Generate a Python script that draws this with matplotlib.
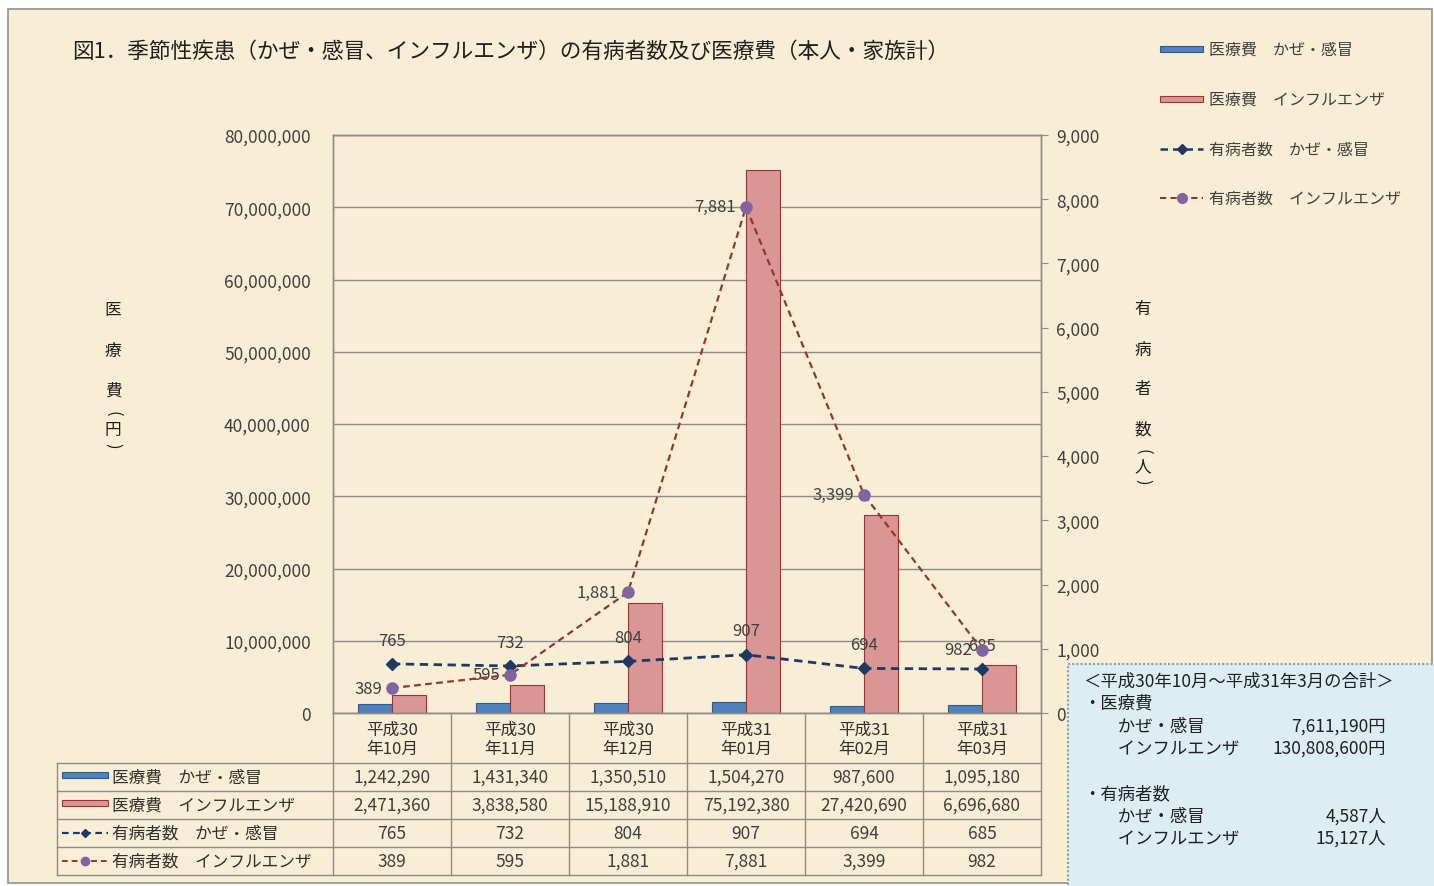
import matplotlib
matplotlib.use("Agg")
import matplotlib.pyplot as plt
from matplotlib.patches import Rectangle
from matplotlib.lines import Line2D
import numpy as np

plt.rcParams['font.family'] = ['Noto Sans CJK JP', 'DejaVu Sans']

# ---------------- data ----------------
categories = ["平成30\n年10月", "平成30\n年11月", "平成30\n年12月",
              "平成31\n年01月", "平成31\n年02月", "平成31\n年03月"]
cost_cold = [1242290, 1431340, 1350510, 1504270, 987600, 1095180]
cost_flu = [2471360, 3838580, 15188910, 75192380, 27420690, 6696680]
pat_cold = [765, 732, 804, 907, 694, 685]
pat_flu = [389, 595, 1881, 7881, 3399, 982]
series_names = ["医療費　かぜ・感冒", "医療費　インフルエンザ",
                "有病者数　かぜ・感冒", "有病者数　インフルエンザ"]
title = "図1．季節性疾患（かぜ・感冒、インフルエンザ）の有病者数及び医療費（本人・家族計）"
left_label = ["医", "療", "費", "(", "円", ")"]
right_label = ["有", "病", "者", "数", "(", "人", ")"]
summary_lines = ["＜平成30年10月～平成31年3月の合計＞",
                 "・医療費",
                 "　　かぜ・感冒", "　　インフルエンザ",
                 "",
                 "・有病者数",
                 "　　かぜ・感冒", "　　インフルエンザ"]
summary_values = ["", "", "7,611,190円", "130,808,600円", "", "", "4,587人", "15,127人"]

# ---------------- colours ----------------
BG = "#F8EDD5"
BLUE = "#4F81BD"; BLUE_E = "#2F5B8F"
RED = "#D99694"; RED_E = "#953735"
NAVY = "#1F3864"
PURPLE = "#8064A2"; FLU_LINE = "#943634"
GRID = "#8C8C8C"
TXT = "#404040"

W, H = 1434, 887
fig = plt.figure(figsize=(W / 100, H / 100), dpi=100, facecolor="white")

def fx(x): return x / W
def fy(y): return 1 - y / H

# overlay axes in pixel coordinates (background, borders, table)
ov = fig.add_axes([0, 0, 1, 1], zorder=0)
ov.set_xlim(0, W); ov.set_ylim(H, 0); ov.axis("off")
ov.add_patch(Rectangle((8, 10), 1424, 874, facecolor=BG, edgecolor="#909090", lw=1.2))

# main axes
L, R, T, B = 333, 1041, 136, 714
ax = fig.add_axes([fx(L), fy(B), (R - L) / W, (B - T) / H], zorder=2)
ax.patch.set_visible(False)
x = np.arange(len(categories))
bw = 0.29
ax.bar(x - bw / 2, cost_cold, bw, color=BLUE, edgecolor=BLUE_E, lw=0.8, zorder=2)
ax.bar(x + bw / 2, cost_flu, bw, color=RED, edgecolor=RED_E, lw=0.8, zorder=2)
ax.set_xlim(-0.5, len(categories) - 0.5)
ax.set_ylim(0, 80000000)
ax.set_yticks(np.arange(0, 80000001, 10000000))
ax.set_yticklabels([f"{v:,}" for v in range(0, 80000001, 10000000)], fontsize=12.5, color=TXT)
ax.tick_params(axis="y", length=0, pad=16)
ax.set_xticks([])
ax.yaxis.grid(True, color=GRID, lw=1.0)
ax.set_axisbelow(True)
for s in ax.spines.values():
    s.set_color(GRID); s.set_linewidth(1.0)

ax2 = ax.twinx()
ax2.patch.set_visible(False)
ax2.set_ylim(0, 9000)
ax2.set_yticks(np.arange(0, 9001, 1000))
ax2.set_yticklabels([f"{v:,}" for v in range(0, 9001, 1000)], fontsize=12.5, color=TXT)
ax2.tick_params(axis="y", length=5, color=GRID, pad=6)
for s in ax2.spines.values():
    s.set_color(GRID); s.set_linewidth(1.0)
ax2.plot(x, pat_cold, ls=(0, (3, 2)), color=NAVY, lw=2, marker="D", ms=6, mfc=NAVY, mec=NAVY, zorder=5)
ax2.plot(x, pat_flu, ls=(0, (3, 2)), color=FLU_LINE, lw=1.6, marker="o", ms=8, mfc=PURPLE, mec=PURPLE, zorder=6)
for xi, v in zip(x, pat_cold):
    ax2.annotate(f"{v:,}", (xi, v), xytext=(0, 11), textcoords="offset points",
                 ha="center", va="bottom", fontsize=12, color=TXT)
for xi, v in zip(x, pat_flu):
    ax2.annotate(f"{v:,}", (xi, v), xytext=(-7, 0), textcoords="offset points",
                 ha="right", va="center", fontsize=12, color=TXT)

# title
fig.text(fx(72), fy(52), title, fontsize=15.6, color="#202020", va="center", ha="left")

# vertical axis labels
for ch, yy in zip(left_label, [311, 352, 391, 414, 430, 446]):
    rot = -90 if ch in "()" else 0
    fig.text(fx(113), fy(yy), ch, fontsize=12, ha="center", va="center", color="#202020",
             rotation=rot)
for ch, yy in zip(right_label, [310, 350, 390, 430, 452, 467, 482]):
    rot = -90 if ch in "()" else 0
    fig.text(fx(1143), fy(yy), ch, fontsize=12, ha="center", va="center", color="#202020",
             rotation=rot)

# legend (top right)
leg_y = [50, 100, 150, 199]
ov.add_patch(Rectangle((1160, leg_y[0] - 3), 43, 6, facecolor=BLUE, edgecolor=BLUE_E, lw=0.8))
ov.add_patch(Rectangle((1160, leg_y[1] - 3), 43, 6, facecolor=RED, edgecolor=RED_E, lw=0.8))
ov.add_line(Line2D([1160, 1203], [leg_y[2]] * 2, color=NAVY, lw=1.8, ls=(0, (3, 2))))
ov.plot([1181.5], [leg_y[2]], marker="D", ms=5, color=NAVY)
ov.add_line(Line2D([1160, 1203], [leg_y[3]] * 2, color=FLU_LINE, lw=1.5, ls=(0, (3, 2))))
ov.plot([1181.5], [leg_y[3]], marker="o", ms=7, color=PURPLE)
for name, yy in zip(series_names, leg_y):
    ov.text(1209, yy, name, fontsize=11.5, va="center", ha="left", color=TXT)

# data table
cw = (R - L) / len(categories)
rows_y = [764, 792, 820, 848, 876]
TL = 57
for i in range(len(categories) + 1):
    ov.add_line(Line2D([L + i * cw] * 2, [B, rows_y[-1]], color=GRID, lw=1.0))
ov.add_line(Line2D([TL, TL], [rows_y[0], rows_y[-1]], color=GRID, lw=1.0))
for yy in rows_y:
    ov.add_line(Line2D([TL, R], [yy, yy], color=GRID, lw=1.0))
for i, c in enumerate(categories):
    ov.text(L + (i + 0.5) * cw, (B + rows_y[0]) / 2 + 1, c, fontsize=12, ha="center",
            va="center", color="#303030", linespacing=1.2)
table_vals = [cost_cold, cost_flu, pat_cold, pat_flu]
for r, vals in enumerate(table_vals):
    yc = (rows_y[r] + rows_y[r + 1]) / 2
    for i, v in enumerate(vals):
        ov.text(L + (i + 0.5) * cw, yc, f"{v:,}", fontsize=12.5, ha="center", va="center", color=TXT)
    ov.text(112, yc, series_names[r], fontsize=12, ha="left", va="center", color="#303030")
# table legend keys
k0, k1 = 62, 108
yc = [(rows_y[r] + rows_y[r + 1]) / 2 for r in range(4)]
ov.add_patch(Rectangle((k0, yc[0] - 5), k1 - k0, 6, facecolor=BLUE, edgecolor=BLUE_E, lw=0.8))
ov.add_patch(Rectangle((k0, yc[1] - 5), k1 - k0, 6, facecolor=RED, edgecolor=RED_E, lw=0.8))
ov.add_line(Line2D([k0, k1], [yc[2]] * 2, color=NAVY, lw=1.6, ls=(0, (3, 2))))
ov.plot([(k0 + k1) / 2], [yc[2]], marker="D", ms=4.5, color=NAVY)
ov.add_line(Line2D([k0, k1], [yc[3]] * 2, color=FLU_LINE, lw=1.4, ls=(0, (3, 2))))
ov.plot([(k0 + k1) / 2], [yc[3]], marker="o", ms=6, color=PURPLE)

# summary box
ov.add_patch(Rectangle((1068, 665), 370, 230, facecolor="#DCEDF3", edgecolor="#8AA0B0",
                       lw=1.5, ls=(0, (1, 1)), zorder=3))
box_y = [682, 704, 727, 749, 772, 794, 817, 839]
for t, v, yy in zip(summary_lines, summary_values, box_y):
    if t:
        ov.text(1083, yy, t, fontsize=12.5, ha="left", va="center", color="#202020", zorder=4)
    if v:
        ov.text(1386, yy, v, fontsize=12.5, ha="right", va="center", color="#202020", zorder=4)

fig.savefig("out.png", dpi=100, facecolor="white")
